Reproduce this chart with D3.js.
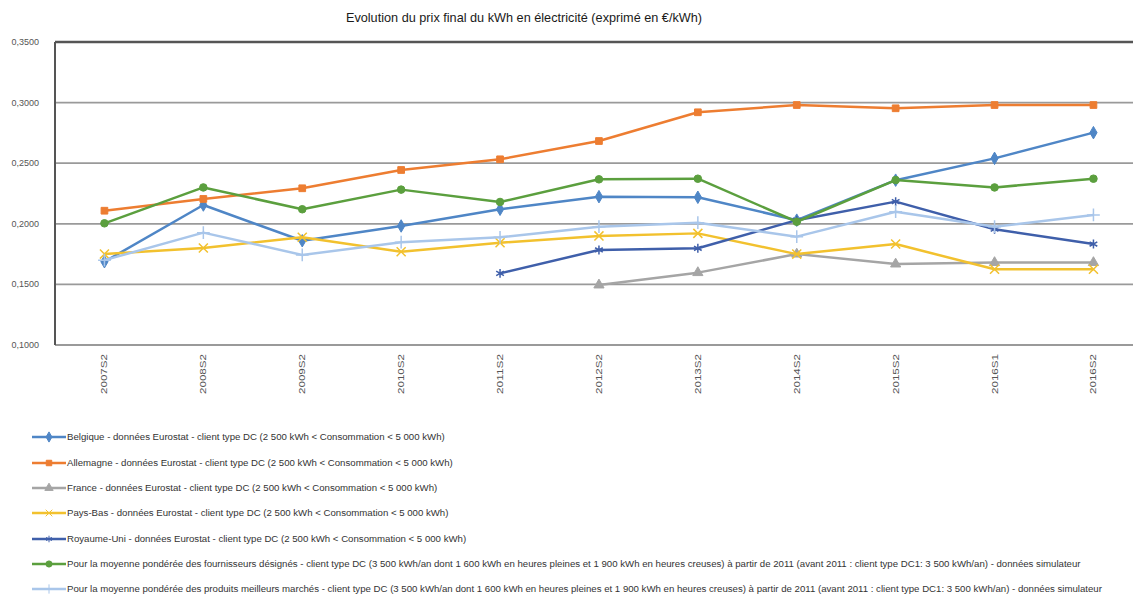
<!DOCTYPE html>
<html>
<head>
<meta charset="utf-8">
<script src="https://cdn.jsdelivr.net/npm/d3@7"></script>
<style>
  body { margin: 0; background: #fff; }
  text { font-family: "Liberation Sans", Arial, sans-serif; }
</style>
</head>
<body>
<script>
var width = 1133,
    height = 600;

var periods = ['2007S2','2008S2','2009S2','2010S2','2011S2','2012S2','2013S2','2014S2','2015S2','2016S1','2016S2'];

var belgique    = [0.1687, 0.2155, 0.1860, 0.1982, 0.2120, 0.2224, 0.2219, 0.2030, 0.2360, 0.2540, 0.2752];
var allemagne   = [0.2108, 0.2205, 0.2293, 0.2444, 0.2532, 0.2683, 0.2920, 0.2980, 0.2953, 0.2980, 0.2980];
var france      = [null, null, null, null, null, 0.1495, 0.1597, 0.1750, 0.1668, 0.1680, 0.1680];
var paysBas     = [0.1750, 0.1800, 0.1889, 0.1770, 0.1844, 0.1900, 0.1921, 0.1750, 0.1833, 0.1625, 0.1625];
var royaumeUni  = [null, null, null, null, 0.1591, 0.1784, 0.1798, 0.2030, 0.2183, 0.1955, 0.1833];
var fournisseurs = [0.2004, 0.2300, 0.2120, 0.2282, 0.2180, 0.2367, 0.2372, 0.2017, 0.2361, 0.2300, 0.2372];
var meilleurs   = [0.1700, 0.1927, 0.1743, 0.1848, 0.1889, 0.1976, 0.2009, 0.1894, 0.2100, 0.1976, 0.2073];

var yTicks = [0.10, 0.15, 0.20, 0.25, 0.30, 0.35];

var seriesNames = [
  'Belgique - données Eurostat - client type DC (2 500 kWh < Consommation < 5 000 kWh)',
  'Allemagne - données Eurostat - client type DC (2 500 kWh < Consommation < 5 000 kWh)',
  'France - données Eurostat - client type DC (2 500 kWh < Consommation < 5 000 kWh)',
  'Pays-Bas - données Eurostat - client type DC (2 500 kWh < Consommation < 5 000 kWh)',
  'Royaume-Uni - données Eurostat - client type DC (2 500 kWh < Consommation < 5 000 kWh)',
  'Pour la moyenne pondérée des fournisseurs désignés - client type DC (3 500 kWh/an dont 1 600 kWh en heures pleines et 1 900 kWh en heures creuses) à partir de 2011 (avant 2011 : client type DC1: 3 500 kWh/an) - données simulateur',
  'Pour la moyenne pondérée des produits meilleurs marchés - client type DC (3 500 kWh/an dont 1 600 kWh en heures pleines et 1 900 kWh en heures creuses) à partir de 2011 (avant 2011 : client type DC1: 3 500 kWh/an) - données simulateur'
];

var series = [
  {name: seriesNames[0], values: belgique,     color: '#4F86C6', symbol: d3.symbolDiamond,  fill: true},
  {name: seriesNames[1], values: allemagne,    color: '#ED7D31', symbol: d3.symbolSquare,   fill: true},
  {name: seriesNames[2], values: france,       color: '#A5A5A5', symbol: d3.symbolTriangle, fill: true},
  {name: seriesNames[3], values: paysBas,      color: '#F2C12E', symbol: d3.symbolX,        fill: false},
  {name: seriesNames[4], values: royaumeUni,   color: '#3F5FAA', symbol: d3.symbolAsterisk, fill: false},
  {name: seriesNames[5], values: fournisseurs, color: '#5B9F3E', symbol: d3.symbolCircle,   fill: true},
  {name: seriesNames[6], values: meilleurs,    color: '#A9C6EA', symbol: d3.symbolPlus,     fill: false}
];

var svg = d3.select('body').append('svg')
    .attr('width', width)
    .attr('height', height);

var plotLeft = 55, plotTop = 42, plotBottom = 345;

var x = d3.scaleBand()
    .domain(periods)
    .range([plotLeft, plotLeft + 11 * 98.9]);

var y = d3.scaleLinear()
    .domain([0.10, 0.35])
    .range([plotBottom, plotTop]);

// title
svg.append('text')
    .attr('x', 524)
    .attr('y', 22)
    .attr('text-anchor', 'middle')
    .style('font-size', '12.7px')
    .style('fill', '#1a1a1a')
    .text('Evolution du prix final du kWh en électricité (exprimé en €/kWh)');

// gridlines
svg.append('g').selectAll('line')
    .data(yTicks)
    .enter().append('line')
    .attr('x1', plotLeft)
    .attr('x2', width)
    .attr('y1', function (d) { return y(d); })
    .attr('y2', function (d) { return y(d); })
    .attr('stroke', function (d) { return d === 0.35 ? '#555' : '#9a9a9a'; })
    .attr('stroke-width', function (d) { return d === 0.35 ? 2.5 : 1.8; });

// left axis line
svg.append('line')
    .attr('x1', plotLeft).attr('x2', plotLeft)
    .attr('y1', plotTop).attr('y2', plotBottom)
    .attr('stroke', '#555')
    .attr('stroke-width', 2);

// y labels
svg.append('g').selectAll('text')
    .data(yTicks)
    .enter().append('text')
    .attr('x', 39)
    .attr('y', function (d) { return y(d) + 3; })
    .attr('text-anchor', 'end')
    .style('font-size', '9px')
    .style('fill', '#555')
    .text(function (d) { return d3.format('.4f')(d).replace('.', ','); });

// x labels
svg.append('g').selectAll('text')
    .data(periods)
    .enter().append('text')
    .attr('transform', function (d) {
        return 'translate(' + (x(d) + x.bandwidth() / 2 + 3) + ',354) rotate(-90)';
    })
    .attr('text-anchor', 'end')
    .attr('textLength', 40)
    .attr('lengthAdjust', 'spacingAndGlyphs')
    .style('font-size', '9px')
    .style('fill', '#555')
    .text(function (d) { return d; });

var line = d3.line()
    .defined(function (d) { return d != null; })
    .x(function (d, i) { return x(periods[i]) + x.bandwidth() / 2; })
    .y(function (d) { return y(d); });

series.forEach(function (s) {
    var g = svg.append('g');
    g.append('path')
        .datum(s.values)
        .attr('fill', 'none')
        .attr('stroke', s.color)
        .attr('stroke-width', 2.5)
        .attr('stroke-linejoin', 'round')
        .attr('d', line);
    var sym = d3.symbol().type(s.symbol).size(s.fill ? 45 : 55);
    g.selectAll('path.m')
        .data(s.values.map(function (v, i) { return {v: v, p: periods[i]}; })
            .filter(function (d) { return d.v != null; }))
        .enter().append('path')
        .attr('class', 'm')
        .attr('transform', function (d) {
            return 'translate(' + (x(d.p) + x.bandwidth() / 2) + ',' + y(d.v) + ')';
        })
        .attr('d', sym)
        .attr('fill', s.fill ? s.color : 'none')
        .attr('stroke', s.color)
        .attr('stroke-width', s.fill ? 1 : 1.5);
});

// legend
var legend = svg.append('g');
var legendY = [437, 463, 488, 513, 539, 564, 589];
series.forEach(function (s, i) {
    var ly = legendY[i];
    legend.append('line')
        .attr('x1', 32).attr('x2', 66)
        .attr('y1', ly).attr('y2', ly)
        .attr('stroke', s.color)
        .attr('stroke-width', 2.5);
    legend.append('path')
        .attr('transform', 'translate(49,' + ly + ')')
        .attr('d', d3.symbol().type(s.symbol).size(30))
        .attr('fill', s.fill ? s.color : 'none')
        .attr('stroke', s.color)
        .attr('stroke-width', 1);
    legend.append('text')
        .attr('x', 67)
        .attr('y', ly + 3)
        .style('font-size', '9.65px')
        .style('fill', '#333')
        .text(s.name);
});
</script>
</body>
</html>
